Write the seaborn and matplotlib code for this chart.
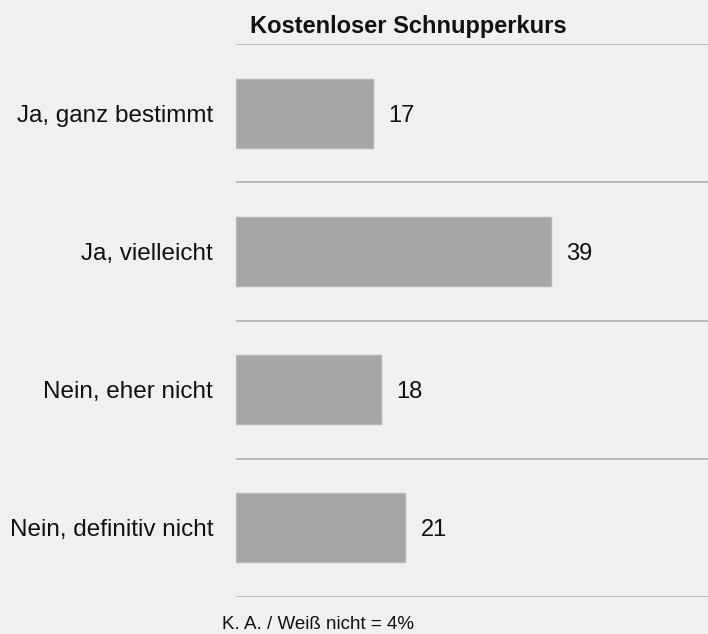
import matplotlib
matplotlib.use("Agg")
import matplotlib.pyplot as plt
import seaborn as sns
import pandas as pd

categories = ["Ja, ganz bestimmt", "Ja, vielleicht", "Nein, eher nicht", "Nein, definitiv nicht"]
values = [17, 39, 18, 21]
title = "Kostenloser Schnupperkurs"
footnote = "K. A. / Weiß nicht = 4%"

sns.set_style("white")
plt.rcParams['font.family'] = ['Liberation Sans', 'DejaVu Sans']

df = pd.DataFrame({"cat": categories, "val": values})

fig = plt.figure(figsize=(7.08, 6.34), dpi=100, facecolor="#f0f0f0")
ax = fig.add_axes([236 / 708, 1 - 597 / 634, 1 - 236 / 708, (597 - 44) / 634])
ax.set_facecolor("#f0f0f0")

sns.barplot(data=df, x="val", y="cat", orient="h", color="#a6a6a6", width=0.5,
            edgecolor="#b5b5b5", linewidth=1, saturation=1, ax=ax)

ax.set_xlim(0, 58.5)
ax.set_ylim(3.5, -0.5)
ax.set_xlabel("")
ax.set_ylabel("")
ax.set_xticks([])
ax.tick_params(axis="y", length=0, pad=16.5, labelsize=17.5, labelcolor="#111111")
ax.set_yticks([i - 0.5 for i in range(len(categories) + 1)], minor=True)
ax.tick_params(axis="y", which="minor", length=0)
ax.grid(which="minor", axis="y", color="#b0b0b0", linewidth=1.2)
ax.set_axisbelow(True)
for s in ax.spines.values():
    s.set_visible(False)

for i, v in enumerate(values):
    ax.text(v + 1.9, i, str(v), va="center_baseline", ha="left", fontsize=17, color="#111111")

fig.text(250 / 708, 1 - 33 / 634, title, fontsize=17, fontweight="bold", va="baseline", ha="left", color="#111111")
fig.text(222 / 708, 1 - 629 / 634, footnote, fontsize=13.5, va="baseline", ha="left", color="#111111")

fig.savefig("out.png", dpi=100, facecolor=fig.get_facecolor())
